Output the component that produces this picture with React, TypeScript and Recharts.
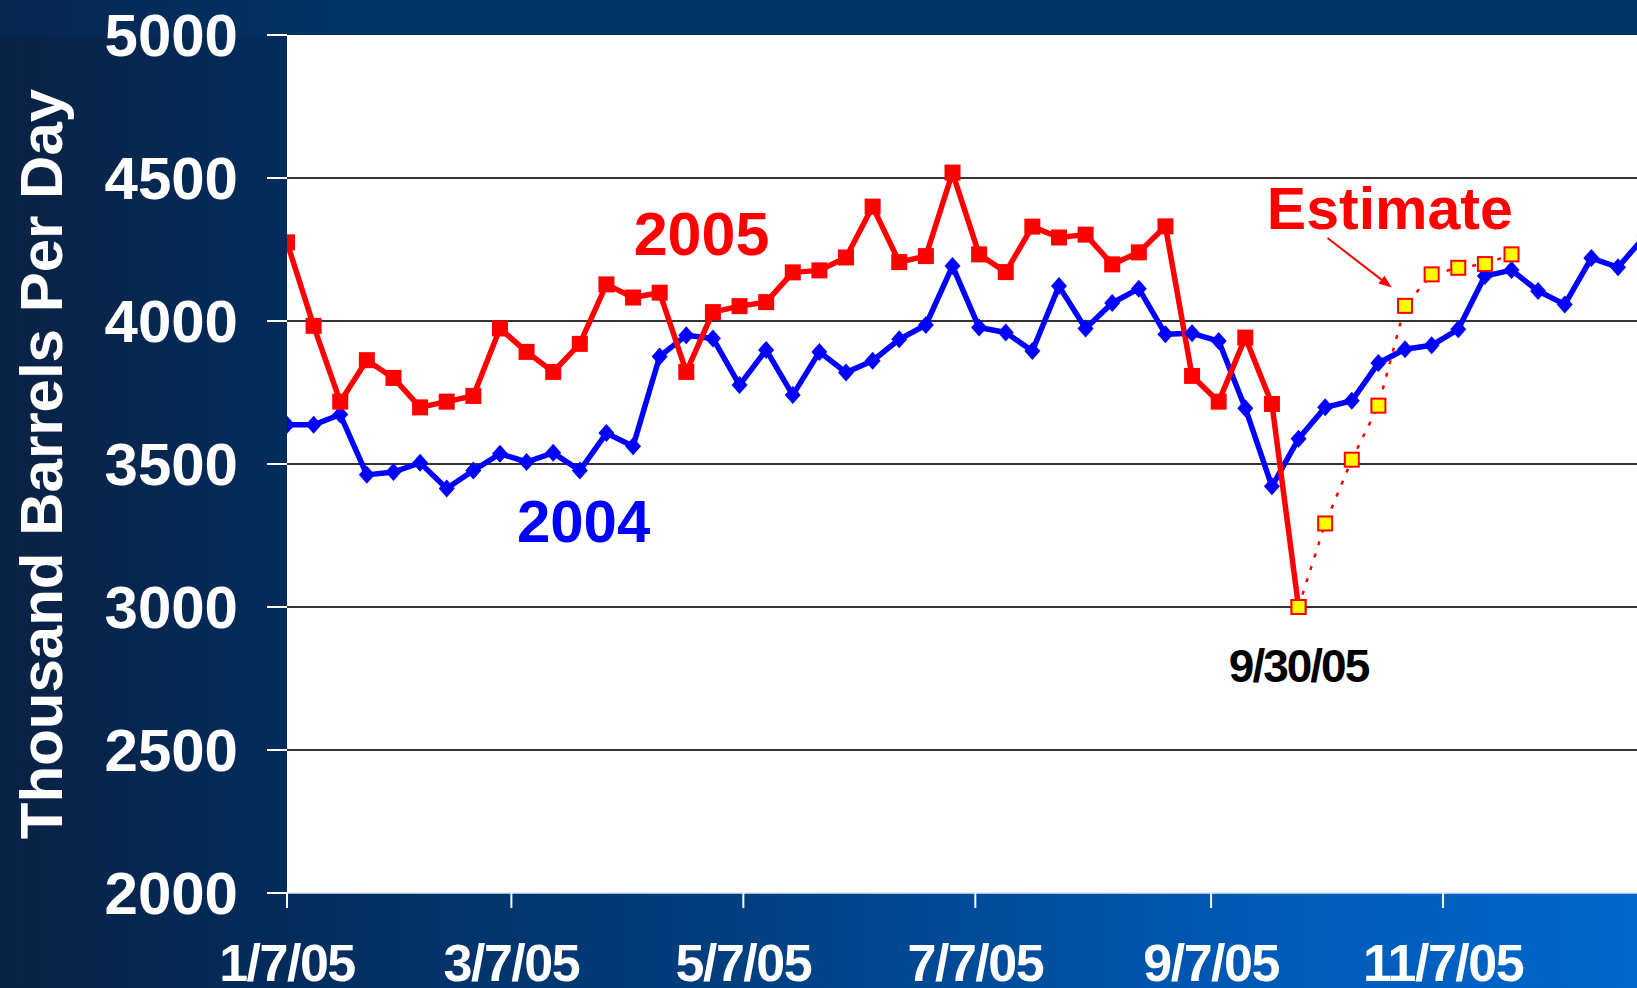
import React from "react";
import {
  LineChart,
  Line,
  XAxis,
  YAxis,
  CartesianGrid,
  ReferenceDot,
  ReferenceLine,
} from "recharts";

// weekly Fridays, 2005
const weekDates = [
  "1/7/05", "1/14/05", "1/21/05", "1/28/05", "2/4/05", "2/11/05", "2/18/05", "2/25/05",
  "3/4/05", "3/11/05", "3/18/05", "3/25/05", "4/1/05", "4/8/05", "4/15/05", "4/22/05",
  "4/29/05", "5/6/05", "5/13/05", "5/20/05", "5/27/05", "6/3/05", "6/10/05", "6/17/05",
  "6/24/05", "7/1/05", "7/8/05", "7/15/05", "7/22/05", "7/29/05", "8/5/05", "8/12/05",
  "8/19/05", "8/26/05", "9/2/05", "9/9/05", "9/16/05", "9/23/05", "9/30/05", "10/7/05",
  "10/14/05", "10/21/05", "10/28/05", "11/4/05", "11/11/05", "11/18/05", "11/25/05",
  "12/2/05", "12/9/05", "12/16/05", "12/23/05", "12/30/05",
];

const runs2004 = [
  3637, 3637, 3673, 3462, 3472, 3504, 3414, 3477, 3536, 3507,
  3539, 3477, 3608, 3562, 3876, 3950, 3939, 3776, 3899, 3741,
  3892, 3820, 3861, 3936, 3986, 4192, 3977, 3960, 3895, 4122,
  3974, 4063, 4113, 3954, 3957, 3930, 3695, 3422, 3588, 3698,
  3721, 3853, 3901, 3915, 3971, 4157, 4178, 4105, 4058, 4220,
  4188, 4295,
];

const runs2005 = [
  4275, 3983, 3718, 3863, 3801, 3698, 3718, 3738, 3974, 3892,
  3822, 3920, 4128, 4082, 4099, 3822, 4031, 4052, 4066, 4170,
  4177, 4222, 4400, 4206, 4227, 4519, 4233, 4171, 4330, 4292,
  4302, 4198, 4240, 4331, 3808, 3718, 3942, 3710, 3000,
];

// estimate starts on 9/30/05
const estimateFrom = 38;
const estimate2005 = [3000, 3292, 3515, 3704, 4053, 4163, 4186, 4199, 4233];

const xTickDates = ["1/7/05", "3/7/05", "5/7/05", "7/7/05", "9/7/05", "11/7/05"];
const yTicks = [2000, 2500, 3000, 3500, 4000, 4500, 5000];
const gridLines = [2500, 3000, 3500, 4000, 4500];

const FONT = "'Liberation Sans', Arial, Helvetica, sans-serif";

const dayOf = (s: string) => {
  const [m, d, y] = s.split("/").map(Number);
  return (Date.UTC(2000 + y, m - 1, d) - Date.UTC(2005, 0, 7)) / 86400000;
};

const data = weekDates.map((date, i) => ({
  day: dayOf(date),
  y2004: runs2004[i],
  y2005: i < runs2005.length ? runs2005[i] : null,
  est:
    i >= estimateFrom && i - estimateFrom < estimate2005.length
      ? estimate2005[i - estimateFrom]
      : null,
}));

const SquareDot = (props: any) => {
  const { cx, cy, index } = props;
  if (cx == null || cy == null) return <g key={index} />;
  return <rect key={index} x={cx - 8} y={cy - 8} width={16} height={16} fill="#ff0000" />;
};

const DiamondDot = (props: any) => {
  const { cx, cy, index } = props;
  if (cx == null || cy == null) return <g key={index} />;
  return (
    <polygon
      key={index}
      points={`${cx},${cy - 9} ${cx + 8},${cy} ${cx},${cy + 9} ${cx - 8},${cy}`}
      fill="#0000ff"
    />
  );
};

const EstimateDot = (props: any) => {
  const { cx, cy, index } = props;
  if (cx == null || cy == null) return <g key={index} />;
  return (
    <rect
      key={index}
      x={cx - 7}
      y={cy - 7}
      width={14}
      height={14}
      fill="#ffff00"
      stroke="#ff0000"
      strokeWidth={2}
    />
  );
};

const note = (text: string, color: string, size: number, spacing = 0) => (props: any) => (
  <text
    x={props.cx}
    y={props.cy}
    textAnchor="middle"
    fill={color}
    fontSize={size}
    fontWeight={700}
    fontFamily={FONT}
    letterSpacing={spacing}
  >
    {text}
  </text>
);

const Arrow = (props: any) => {
  const { x1, y1, x2, y2 } = props;
  const ang = Math.atan2(y2 - y1, x2 - x1);
  const len = 13;
  const half = 5;
  const bx = x2 - len * Math.cos(ang);
  const by = y2 - len * Math.sin(ang);
  const px = -Math.sin(ang) * half;
  const py = Math.cos(ang) * half;
  return (
    <g>
      <line x1={x1} y1={y1} x2={bx} y2={by} stroke="#ff0000" strokeWidth={2} />
      <polygon
        points={`${x2},${y2} ${bx + px},${by + py} ${bx - px},${by - py}`}
        fill="#ff0000"
      />
    </g>
  );
};

const YTitle = (props: any) => {
  const vb = props.viewBox || { x: 0, y: 35, width: 287, height: 858 };
  const cy = vb.y + vb.height / 2;
  const bx = vb.x + 62;
  return (
    <text
      x={bx}
      y={cy}
      transform={`rotate(-90, ${bx}, ${cy})`}
      textAnchor="middle"
      fill="#ffffff"
      fontSize={60}
      fontWeight={700}
      fontFamily={FONT}
    >
      Thousand Barrels Per Day
    </text>
  );
};

const App = () => {
  return (
    <div
      style={{
        position: "fixed",
        left: 0,
        top: 0,
        width: 1637,
        height: 988,
        overflow: "hidden",
        background:
          "linear-gradient(90deg, #0a2244 0%, #032b5a 16%, #023f80 45%, #0058b4 75%, #0068cc 100%)",
      }}
    >
      <div
        style={{
          position: "absolute",
          left: 0,
          top: 0,
          width: 1637,
          height: 36,
          background: "linear-gradient(90deg, #072650 0%, #003366 22%, #003366 100%)",
        }}
      />
      <div style={{ position: "absolute", left: 0, top: 0 }}>
        <LineChart
          width={1637}
          height={988}
          data={data}
          margin={{ top: 35, right: 0, bottom: 0, left: 0 }}
        >
          <CartesianGrid
            vertical={false}
            horizontalValues={gridLines}
            stroke="#333333"
            strokeWidth={2}
            fill="#ffffff"
            fillOpacity={1}
          />
          <XAxis
            dataKey="day"
            type="number"
            domain={[0, 355]}
            allowDataOverflow
            ticks={xTickDates.map(dayOf)}
            tickFormatter={(v: number) => xTickDates.find((d) => dayOf(d) === v) ?? ""}
            interval={0}
            height={95}
            tickSize={15}
            tickMargin={36}
            axisLine={{ stroke: "#dfe6f0", strokeWidth: 1.5 }}
            tickLine={{ stroke: "#ffffff", strokeWidth: 2 }}
            tick={{
              fill: "#ffffff",
              fontSize: 52,
              fontWeight: 700,
              fontFamily: FONT,
              letterSpacing: -1.5,
            }}
          />
          <YAxis
            type="number"
            domain={[2000, 5000]}
            ticks={yTicks}
            interval={0}
            width={287}
            tickSize={20}
            tickMargin={29}
            axisLine={false}
            tickLine={{ stroke: "#ffffff", strokeWidth: 2 }}
            tick={{ fill: "#ffffff", fontSize: 60, fontWeight: 700, fontFamily: FONT }}
            label={<YTitle />}
          />
          <Line
            dataKey="y2004"
            stroke="#0000ff"
            strokeWidth={5.5}
            strokeLinejoin="round"
            dot={DiamondDot}
            activeDot={false}
            isAnimationActive={false}
          />
          <Line
            dataKey="y2005"
            stroke="#ff0000"
            strokeWidth={5.5}
            strokeLinejoin="round"
            dot={SquareDot}
            activeDot={false}
            isAnimationActive={false}
          />
          <Line
            dataKey="est"
            stroke="#ff0000"
            strokeWidth={2.5}
            strokeDasharray="4 9"
            dot={EstimateDot}
            activeDot={false}
            isAnimationActive={false}
          />
          <ReferenceDot x={109} y={4232} r={0} shape={note("2005", "#ff0000", 61)} />
          <ReferenceDot x={78} y={3229} r={0} shape={note("2004", "#0000ff", 60)} />
          <ReferenceDot x={290} y={4323} r={0} shape={note("Estimate", "#ff0000", 59)} />
          <ReferenceDot x={266} y={2738} r={0} shape={note("9/30/05", "#000000", 46, -2)} />
          <ReferenceLine
            segment={[
              { x: 273.6, y: 4290 },
              { x: 290.5, y: 4117 },
            ]}
            shape={Arrow}
          />
        </LineChart>
      </div>
    </div>
  );
};

export default App;
